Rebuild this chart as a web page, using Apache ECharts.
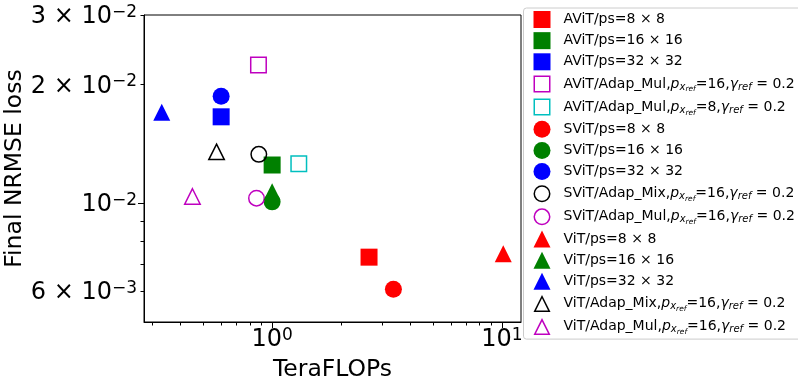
<!DOCTYPE html>
<html>
<head>
<meta charset="utf-8">
<script src="https://cdn.jsdelivr.net/npm/echarts@6/dist/echarts.min.js"></script>
<style>html,body{margin:0;padding:0;background:#fff}#main{width:798px;height:381px}</style>
</head>
<body>
<div id="main"></div>
<script>
var seriesNames = [
  'AViT/ps=8 × 8', 'AViT/ps=16 × 16', 'AViT/ps=32 × 32',
  'AViT/Adap_Mul,p16,g0.2', 'AViT/Adap_Mul,p8,g0.2',
  'SViT/ps=8 × 8', 'SViT/ps=16 × 16', 'SViT/ps=32 × 32',
  'SViT/Adap_Mix,p16,g0.2', 'SViT/Adap_Mul,p16,g0.2',
  'ViT/ps=8 × 8', 'ViT/ps=16 × 16', 'ViT/ps=32 × 32',
  'ViT/Adap_Mix,p16,g0.2', 'ViT/Adap_Mul,p16,g0.2'
];
var legendLabels = [
  '{t|AViT/ps=8 × 8}', '{t|AViT/ps=16 × 16}', '{t|AViT/ps=32 × 32}',
  '{t|AViT/Adap_Mul,}{i|p}{s|x}{ss|ref}{t|=16,}{i|γ}{s|ref}{t| = 0.2}',
  '{t|AViT/Adap_Mul,}{i|p}{s|x}{ss|ref}{t|=8,}{i|γ}{s|ref}{t| = 0.2}',
  '{t|SViT/ps=8 × 8}', '{t|SViT/ps=16 × 16}', '{t|SViT/ps=32 × 32}',
  '{t|SViT/Adap_Mix,}{i|p}{s|x}{ss|ref}{t|=16,}{i|γ}{s|ref}{t| = 0.2}',
  '{t|SViT/Adap_Mul,}{i|p}{s|x}{ss|ref}{t|=16,}{i|γ}{s|ref}{t| = 0.2}',
  '{t|ViT/ps=8 × 8}', '{t|ViT/ps=16 × 16}', '{t|ViT/ps=32 × 32}',
  '{t|ViT/Adap_Mix,}{i|p}{s|x}{ss|ref}{t|=16,}{i|γ}{s|ref}{t| = 0.2}',
  '{t|ViT/Adap_Mul,}{i|p}{s|x}{ss|ref}{t|=16,}{i|γ}{s|ref}{t| = 0.2}'
];
// TeraFLOPs
var flops = [2.64, 1.0, 0.60, 0.872, 1.306, 3.37, 1.0, 0.60, 0.875, 0.855, 10.13, 1.0, 0.331, 0.573, 0.450];
// final NRMSE loss
var nrmse = [0.0073, 0.0125, 0.01656, 0.0224, 0.0126, 0.00605, 0.01008, 0.01866, 0.0133, 0.0103, 0.00745, 0.0107, 0.0170, 0.0135, 0.0104];

var xMajorTicks = [1, 10];
var xMinorTicks = [0.3, 0.4, 0.5, 0.6, 0.7, 0.8, 0.9, 2, 3, 4, 5, 6, 7, 8, 9];
var yLabelTicks = [0.006, 0.01, 0.02, 0.03];
var yLabelText = ['{b|6 × 10}{sup|−3}', '{b|10}{sup|−2}', '{b|2 × 10}{sup|−2}', '{b|3 × 10}{sup|−2}'];
var yMajorTicks = [0.01];
var yMinorTicks = [0.006, 0.007, 0.008, 0.009, 0.02, 0.03];

var colors = ['#ff0000', '#008000', '#0000ff', '#bf00bf', '#00bfbf',
  '#ff0000', '#008000', '#0000ff', '#000000', '#bf00bf',
  '#ff0000', '#008000', '#0000ff', '#000000', '#bf00bf'];
var symbols = ['rect', 'rect', 'rect', 'rect', 'rect',
  'circle', 'circle', 'circle', 'circle', 'circle',
  'triangle', 'triangle', 'triangle', 'triangle', 'triangle'];
var hollow = [0, 0, 0, 1, 1, 0, 0, 0, 1, 1, 0, 0, 0, 1, 1];

// ring-shaped legend icons for the hollow markers (outline drawn as a filled ring)
var ringIcons = {
  rect: 'path://M0,0L17,0L17,17L0,17Z M1.5,1.5L1.5,15.5L15.5,15.5L15.5,1.5Z',
  circle: 'path://M8.5,0A8.5,8.5,0,1,1,8.5,17A8.5,8.5,0,1,1,8.5,0Z M8.5,1.5A7,7,0,1,0,8.5,15.5A7,7,0,1,0,8.5,1.5Z',
  triangle: 'path://M8.5,0L17,17L0,17Z M8.5,3.35L2.43,15.5L14.57,15.5Z'
};

var FONT = 'DejaVu Sans';
var tickRich = {
  b: {fontSize: 24, lineHeight: 26, fontFamily: FONT, color: '#000'},
  sup: {fontSize: 17, lineHeight: 17, verticalAlign: 'top', fontFamily: FONT, color: '#000'}
};

var chart = echarts.init(document.getElementById('main'));

var series = seriesNames.map(function (n, i) {
  return {
    name: n,
    type: 'scatter',
    xAxisIndex: 0,
    yAxisIndex: 0,
    symbol: symbols[i],
    symbolSize: hollow[i] ? 15.5 : 17,
    itemStyle: hollow[i]
      ? {color: 'none', borderColor: colors[i], borderWidth: 1.5, opacity: 1}
      : {color: colors[i], borderWidth: 0, opacity: 1},
    data: [[flops[i], nrmse[i]]]
  };
});

var legendData = seriesNames.map(function (n, i) {
  if (!hollow[i]) return {name: n};
  return {name: n, icon: ringIcons[symbols[i]], itemStyle: {color: colors[i], borderWidth: 0}};
});

var option = {
  animation: false,
  textStyle: {fontFamily: FONT},
  grid: {
    show: true, borderColor: '#000', borderWidth: 1,
    left: 144, top: 15, width: 377, height: 307,
    containLabel: false, outerBoundsMode: 'none'
  },
  xAxis: [{
    type: 'log', min: 0.277, max: 12.1, position: 'bottom',
    name: 'TeraFLOPs', nameLocation: 'middle', nameGap: 36,
    nameTextStyle: {fontSize: 23.5, color: '#000', fontFamily: FONT},
    axisLine: {show: true, lineStyle: {color: '#000', width: 1}},
    axisTick: {show: true, length: 6, lineStyle: {color: '#000'}, customValues: xMajorTicks},
    axisLabel: {
      margin: 5, customValues: xMajorTicks, color: '#000',
      formatter: function (v) { return '{b|10}{sup|' + Math.round(Math.log10(v)) + '}'; },
      rich: tickRich
    },
    splitLine: {show: false}
  }, {
    type: 'log', min: 0.277, max: 12.1, position: 'bottom',
    axisLine: {show: false},
    axisTick: {show: true, length: 3.5, lineStyle: {color: '#000'}, customValues: xMinorTicks},
    axisLabel: {show: false},
    splitLine: {show: false}
  }],
  yAxis: [{
    type: 'log', min: 0.005, max: 0.03, position: 'left',
    name: 'Final NRMSE loss', nameLocation: 'middle', nameGap: 109,
    nameTextStyle: {fontSize: 23.5, color: '#000', fontFamily: FONT},
    axisLine: {show: true, lineStyle: {color: '#000', width: 1}},
    axisTick: {show: true, length: 6, lineStyle: {color: '#000'}, customValues: yMajorTicks},
    axisLabel: {
      margin: 7, customValues: yLabelTicks, color: '#000', padding: [4, 0, 0, 0],
      formatter: function (v) {
        var best = 0;
        for (var k = 1; k < yLabelTicks.length; k++) {
          if (Math.abs(yLabelTicks[k] - v) < Math.abs(yLabelTicks[best] - v)) best = k;
        }
        return yLabelText[best];
      },
      rich: tickRich
    },
    splitLine: {show: false}
  }, {
    type: 'log', min: 0.005, max: 0.03, position: 'left',
    axisLine: {show: false},
    axisTick: {show: true, length: 3.5, lineStyle: {color: '#000'}, customValues: yMinorTicks},
    axisLabel: {show: false},
    splitLine: {show: false}
  }],
  legend: {
    orient: 'vertical',
    left: 523.5, top: 8,
    padding: [3, 12, 3, 10],
    itemWidth: 17, itemHeight: 17, itemGap: 4.15,
    backgroundColor: 'rgba(255,255,255,0.8)',
    borderColor: '#cccccc', borderWidth: 1, borderRadius: 3,
    selectedMode: false,
    data: legendData,
    formatter: function (name) { return legendLabels[seriesNames.indexOf(name)]; },
    textStyle: {
      fontSize: 14, color: '#000', fontFamily: FONT, lineHeight: 17,
      padding: [0, 0, 0, 8],
      rich: {
        t: {fontSize: 14, lineHeight: 17, fontFamily: FONT, color: '#000'},
        i: {fontSize: 14, fontStyle: 'italic', lineHeight: 17, fontFamily: FONT, color: '#000'},
        s: {fontSize: 10, fontStyle: 'italic', lineHeight: 17, padding: [6, 0, 0, 0], fontFamily: FONT, color: '#000'},
        ss: {fontSize: 7.5, fontStyle: 'italic', lineHeight: 17, padding: [11, 0, 0, 0], fontFamily: FONT, color: '#000'}
      }
    }
  },
  series: series
};

chart.setOption(option);
</script>
</body>
</html>
